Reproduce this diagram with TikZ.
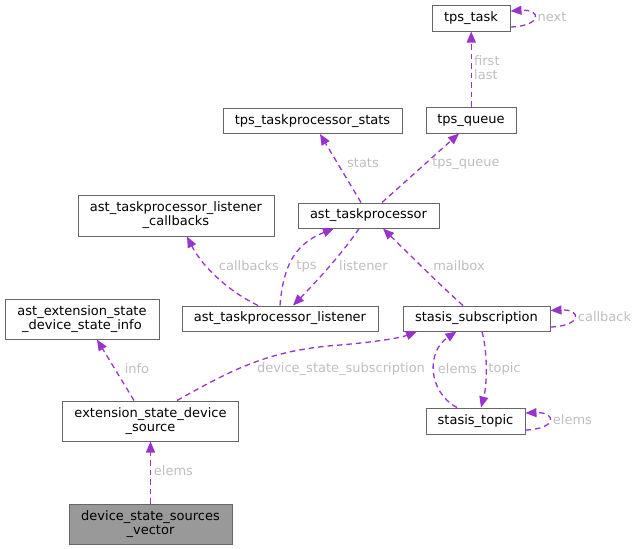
\documentclass[tikz,border=0pt]{standalone}
\usepackage{fontspec}
\setmainfont{DejaVu Sans}
\usetikzlibrary{arrows.meta,calc}
\definecolor{edgec}{HTML}{9A32CD}
\definecolor{labc}{HTML}{BEBEBE}
\definecolor{boxc}{HTML}{666666}
\definecolor{fillc}{HTML}{999999}
\begin{document}
\begin{tikzpicture}[x=1pt,y=-1pt,
  cls/.style={draw=boxc,line width=1pt,fill=white,inner sep=1pt,align=center,font=\fontsize{13}{14}\selectfont},
  edge/.style={draw=edgec,line width=1.3pt,dash pattern=on 5.5pt off 4pt,-{Triangle[length=11pt,width=9pt]}},
  lab/.style={text=labc,inner sep=0pt,font=\fontsize{13}{14}\selectfont,align=left}]
\useasboundingbox (0,0) rectangle (638,549);
% nodes
\node[cls,minimum width=78,minimum height=26] (task) at (471,18) {tps\_task};
\node[cls,minimum width=90,minimum height=26] (queue) at (471,120) {tps\_queue};
\node[cls,minimum width=179,minimum height=25] (stats) at (312.5,121) {tps\_taskprocessor\_stats};
\node[cls,minimum width=141,minimum height=25] (atp) at (368.5,215.5) {ast\_taskprocessor};
\node[cls,minimum width=196,minimum height=41] (cb) at (176,215.5) {ast\_taskprocessor\_listener\\\_callbacks};
\node[cls,minimum width=196,minimum height=25] (lis) at (280,318.5) {ast\_taskprocessor\_listener};
\node[cls,minimum width=147,minimum height=25] (sub) at (476.5,318.5) {stasis\_subscription};
\node[cls,minimum width=99,minimum height=26] (topic) at (475.5,421) {stasis\_topic};
\node[cls,minimum width=154,minimum height=40] (info) at (82,319) {ast\_extension\_state\\\_device\_state\_info};
\node[cls,minimum width=176,minimum height=40] (src) at (150.5,421) {extension\_state\_device\\\_source};
\node[cls,fill=fillc,minimum width=163,minimum height=40] (vec) at (150.5,524) {device\_state\_sources\\\_vector};
% edges
\draw[edge] ($(task.east)+(0,9)$) .. controls (542,26) and (542,9) .. ($(task.east)+(0,-7)$);
\node[lab] at (552,17) {next};
\draw[edge] ($(queue.north)+(0.25,0)$) -- ($(task.south)+(0.25,0)$);
\node[lab,anchor=west] at (474,68) {first\\last};
\draw[edge] ($(atp.north)+(-7.5,0)$) -- ($(stats.south)+(7.5,0)$);
\node[lab] at (363,163) {stats};
\draw[edge] ($(atp.north)+(13.5,0)$) -- ($(queue.south)+(-12,0)$);
\node[lab] at (466,163) {tps\_queue};
\draw[edge] ($(lis.north)+(-22,0)$) .. controls (230,292) and (203,268) .. ($(cb.south)+(11,0)$);
\node[lab] at (249,266) {callbacks};
\draw[edge] (lis.north) .. controls (283,270) and (292,245) .. ($(atp.south)+(-34.5,0)$);
\node[lab] at (306.5,266) {tps};
\draw[edge] ($(atp.south)+(-9.5,0)$) .. controls (345,250) and (318,280) .. ($(lis.north)+(13,0)$);
\node[lab] at (363.5,266) {listener};
\draw[edge] ($(sub.north)+(-13.5,0)$) .. controls (440,285) and (410,255) .. ($(atp.south)+(14.5,0)$);
\node[lab] at (459,266) {mailbox};
\draw[edge] ($(sub.east)+(0,8.5)$) .. controls (582,326) and (582,309) .. ($(sub.east)+(0,-8)$);
\node[lab] at (604.5,317) {callback};
\draw[edge] ($(src.north)+(26.5,0)$) .. controls (235,368) and (270,350) .. (340,345) .. controls (375,342) and (400,338) .. ($(sub.south)+(-59.5,0)$);
\node[lab] at (341,369) {device\_state\_subscription};
\draw[edge] ($(src.north)+(-16.5,0)$) -- ($(info.south)+(15,0)$);
\node[lab] at (137,369) {info};
\draw[edge] ($(topic.north)+(-18.5,0)$) .. controls (428,392) and (426,352) .. ($(sub.south)+(-20,0)$);
\node[lab] at (457.5,369) {elems};
\draw[edge] ($(sub.south)+(5.5,0)$) .. controls (488,355) and (487,385) .. ($(topic.north)+(5.5,0)$);
\node[lab] at (504.5,369) {topic};
\draw[edge] ($(topic.east)+(0,9)$) .. controls (557,429) and (557,412) .. ($(topic.east)+(0,-8)$);
\node[lab] at (572.5,420) {elems};
\draw[edge] (vec.north) -- (src.south);
\node[lab] at (173.5,471) {elems};
\end{tikzpicture}
\end{document}
